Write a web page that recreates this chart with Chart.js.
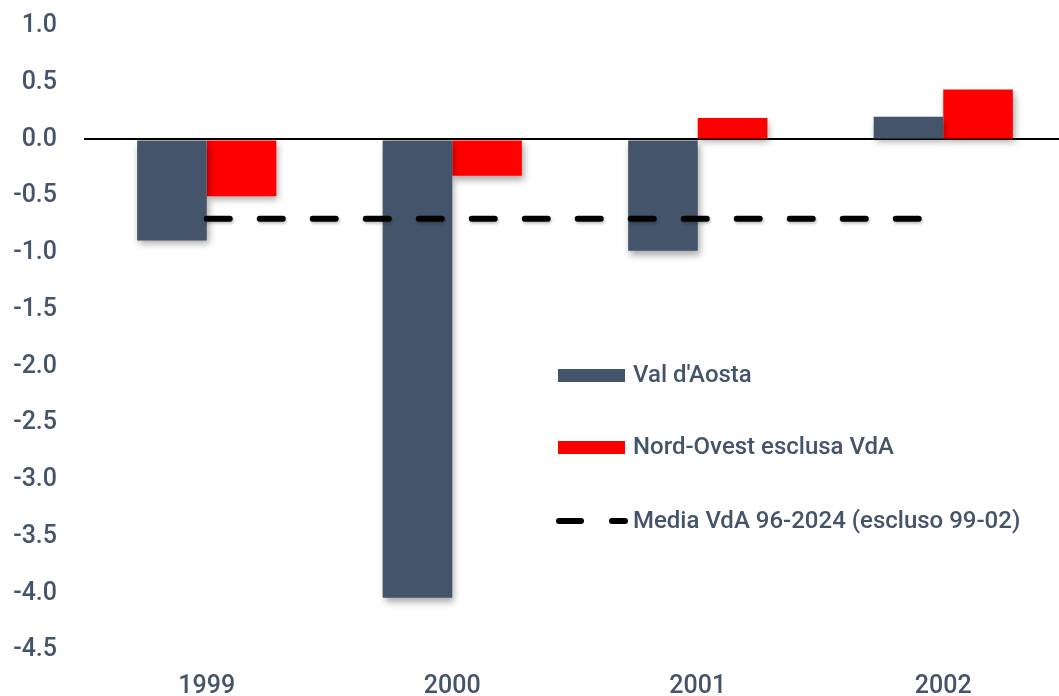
<!DOCTYPE html>
<html><head><meta charset="utf-8">
<script src="https://cdn.jsdelivr.net/npm/chart.js@4.4.1/dist/chart.umd.min.js"></script>
<style>html,body{margin:0;padding:0;background:#fff;overflow:hidden;}#wrap{width:1059px;height:696px;overflow:hidden;}</style>
</head><body><div id="wrap"><canvas id="c" width="1066" height="696"></canvas></div>
<script>
const categories = ['1999', '2000', '2001', '2002'];
const valDAosta = [-0.89, -4.04, -0.98, 0.20];
const nordOvest = [-0.50, -0.32, 0.19, 0.44];
const mediaVdA = [-0.70, -0.70, -0.70, -0.70];
const seriesNames = ["Val d'Aosta", 'Nord-Ovest esclusa VdA', 'Media VdA 96-2024 (escluso 99-02)'];

const TXT = '#44546A';
const FONT = 'Roboto, "DejaVu Sans", sans-serif';

const shadowPlugin = {
  id: 'shadow',
  beforeDatasetDraw(chart, args) {
    const ctx = chart.ctx;
    ctx.save();
    if (chart.data.datasets[args.index].type !== 'line') {
      ctx.shadowColor = 'rgba(0,0,0,0.35)';
      ctx.shadowBlur = 7;
      ctx.shadowOffsetX = 2;
      ctx.shadowOffsetY = 4;
    } else {
      ctx.shadowColor = 'rgba(0,0,0,0.25)';
      ctx.shadowBlur = 3;
      ctx.shadowOffsetX = 1;
      ctx.shadowOffsetY = 2;
    }
  },
  afterDatasetDraw(chart) { chart.ctx.restore(); }
};

const legendPlugin = {
  id: 'customLegend',
  afterDraw(chart) {
    const ctx = chart.ctx;
    const x0 = 558, sw = 67, tx = 633;
    const ys = [375, 447, 521];
    ctx.save();
    chart.data.datasets.forEach((ds, i) => {
      const y = ys[i];
      if (ds.type === 'line') {
        ctx.strokeStyle = '#000';
        ctx.lineWidth = 6;
        ctx.lineCap = 'round';
        ctx.beginPath(); ctx.moveTo(559, y); ctx.lineTo(581, y); ctx.stroke();
        ctx.beginPath(); ctx.moveTo(612, y); ctx.lineTo(625, y); ctx.stroke();
      } else {
        ctx.fillStyle = ds.backgroundColor;
        ctx.fillRect(x0, y - 6, sw, 13);
      }
      ctx.fillStyle = TXT;
      ctx.font = '500 24px ' + FONT;
      ctx.textBaseline = 'middle';
      ctx.textAlign = 'left';
      ctx.fillText(ds.label, tx, y + 1);
    });
    ctx.restore();
  }
};

new Chart(document.getElementById('c'), {
  data: {
    labels: categories,
    datasets: [
      { type: 'bar', label: seriesNames[0], data: valDAosta, backgroundColor: '#44546A', order: 2 },
      { type: 'bar', label: seriesNames[1], data: nordOvest, backgroundColor: '#FF0000', order: 2 },
      { type: 'line', label: seriesNames[2], data: mediaVdA, borderColor: '#000', borderWidth: 6,
        borderDash: [23, 30], borderCapStyle: 'round', pointRadius: 0, fill: false, order: 1 }
    ]
  },
  options: {
    responsive: false,
    animation: false,
    layout: { padding: { top: 26, right: 0, left: 0, bottom: 0 } },
    datasets: { bar: { categoryPercentage: 0.567, barPercentage: 1.0 } },
    plugins: { legend: { display: false }, tooltip: { enabled: false } },
    scales: {
      x: {
        grid: { display: false, drawTicks: false },
        border: { display: false },
        ticks: { color: TXT, font: { family: FONT, size: 25, weight: '500' }, padding: 22 },
        afterFit(s) { s.height = 46; s.paddingLeft = 0; s.paddingRight = 0; }
      },
      y: {
        min: -4.5, max: 1.0,
        border: { display: false },
        grid: {
          drawTicks: false,
          color: (c) => (c.tick && c.tick.value === 0 ? '#000' : 'rgba(0,0,0,0)'),
          lineWidth: (c) => (c.tick && c.tick.value === 0 ? 2 : 0)
        },
        ticks: {
          stepSize: 0.5, color: TXT, font: { family: FONT, size: 25, weight: '500' }, padding: 27,
          callback: (v) => Number(v).toFixed(1)
        },
        afterFit(s) { s.width = 84; s.paddingTop = 0; s.paddingBottom = 0; }
      }
    }
  },
  plugins: [shadowPlugin, legendPlugin]
});
</script></body></html>
